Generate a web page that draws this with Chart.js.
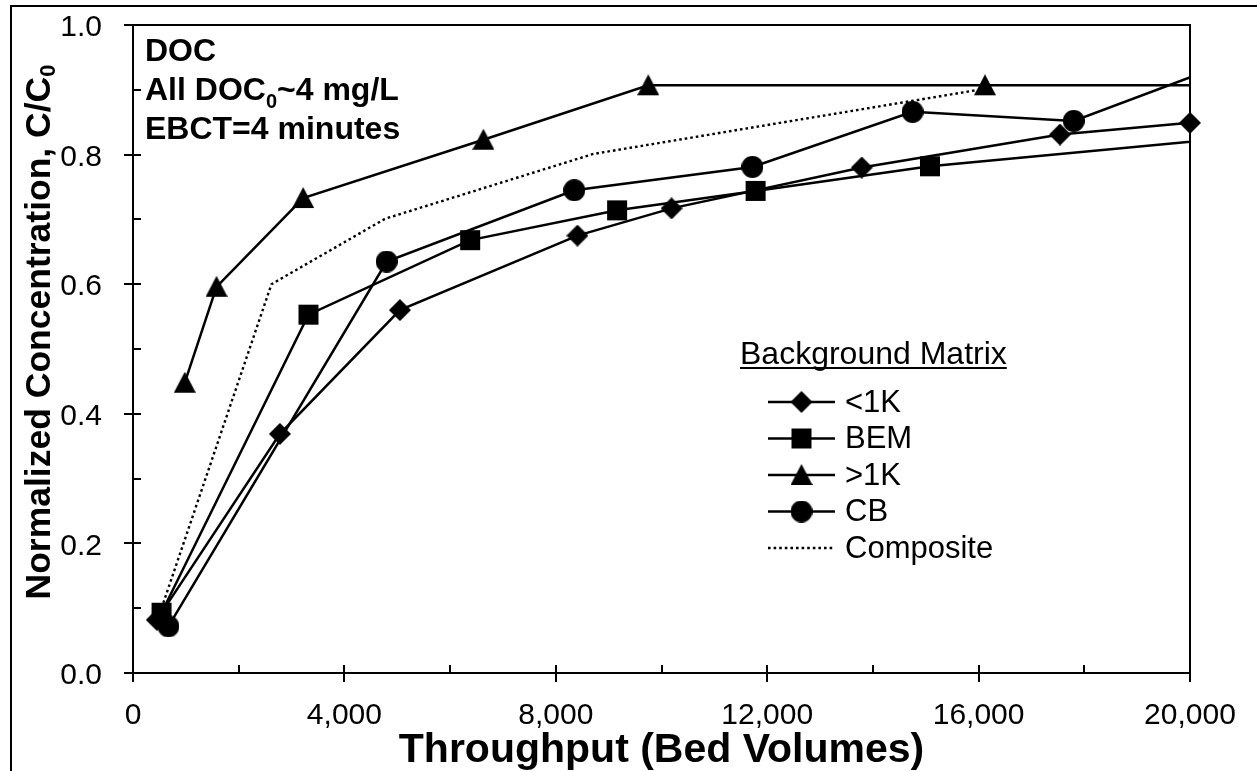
<!DOCTYPE html>
<html>
<head>
<meta charset="utf-8">
<title>DOC breakthrough by background matrix</title>
<script src="https://cdn.jsdelivr.net/npm/chart.js@4/dist/chart.umd.min.js"></script>
<style>
    html, body { margin: 0; padding: 0; background: #fff; }
    #wrap { width: 1257px; height: 771px; }
</style>
</head>
<body>
<div id="wrap"><canvas id="chart" width="1257" height="771"></canvas></div>
<script>
// Throughput (bed volumes) and normalized concentration C/C0 per background matrix
const lt1kX = [450, 2780, 5050, 8410, 10190, 13790, 17540, 20000];
const lt1kY = [0.082, 0.369, 0.560, 0.675, 0.717, 0.780, 0.831, 0.849];
const bemX = [540, 3320, 6380, 9160, 11780, 15080, 22000];
const bemY = [0.093, 0.553, 0.668, 0.714, 0.744, 0.782, 0.835];
const gt1kX = [980, 1580, 3220, 6630, 9750, 16120, 22000];
const gt1kY = [0.448, 0.596, 0.733, 0.823, 0.907, 0.907, 0.907];
const cbX = [670, 4800, 8350, 11720, 14750, 17800, 22000];
const cbY = [0.072, 0.635, 0.745, 0.781, 0.866, 0.852, 0.980];
const compositeX = [540, 2620, 4770, 8710, 15930];
const compositeY = [0.100, 0.600, 0.701, 0.801, 0.899];

const seriesNames = ['<1K', 'BEM', '>1K', 'CB', 'Composite'];
const xTicks = [0, 4000, 8000, 12000, 16000, 20000];
const yTicks = [0, 0.2, 0.4, 0.6, 0.8, 1.0];

const legendTitle = 'Background Matrix';
const xTitle = 'Throughput (Bed Volumes)';
// [text, subscript, rest]
const yTitle = ['Normalized Concentration, C/C', '0', ''];
const notes = [
    ['DOC', '', ''],
    ['All DOC', '0', '~4 mg/L'],
    ['EBCT=4 minutes', '', '']
];

const FONT = '"Liberation Sans", Arial, Helvetica, sans-serif';

// Build a solid black marker image
function makeMarker(shape, size) {
    const c = document.createElement('canvas');
    c.width = size;
    c.height = size;
    const g = c.getContext('2d');
    const h = size / 2;
    g.fillStyle = '#000';
    g.beginPath();
    if (shape === 'diamond') {
        g.moveTo(h, 0); g.lineTo(size, h); g.lineTo(h, size); g.lineTo(0, h);
    } else if (shape === 'square') {
        g.rect(1, 1, size - 2, size - 2);
    } else if (shape === 'triangle') {
        g.moveTo(h, 0); g.lineTo(size, size - 1); g.lineTo(0, size - 1);
    } else {
        g.arc(h, h, h, 0, Math.PI * 2);
    }
    g.closePath();
    g.fill();
    return c;
}

const markers = {
    diamond: makeMarker('diamond', 22),
    square: makeMarker('square', 22),
    triangle: makeMarker('triangle', 22),
    circle: makeMarker('circle', 22)
};

function points(xs, ys) {
    return xs.map((x, i) => ({ x: x, y: ys[i] }));
}

function lineSet(label, xs, ys, marker, clip) {
    return {
        label: label,
        data: points(xs, ys),
        showLine: true,
        borderColor: '#000',
        backgroundColor: '#000',
        borderWidth: 2.5,
        pointStyle: marker || false,
        pointRadius: marker ? 11 : 0,
        pointHoverRadius: marker ? 11 : 0,
        tension: 0,
        clip: clip
    };
}

const datasets = [
    lineSet(seriesNames[0], lt1kX, lt1kY, markers.diamond, false),
    lineSet(seriesNames[1], bemX, bemY, markers.square, 0),
    lineSet(seriesNames[2], gt1kX, gt1kY, markers.triangle, 0),
    lineSet(seriesNames[3], cbX, cbY, markers.circle, 0),
    Object.assign(lineSet(seriesNames[4], compositeX, compositeY, null, false), {
        borderWidth: 2.4,
        borderDash: [2.6, 3],
        borderCapStyle: 'butt'
    })
];

// Draw text with an optional subscript part
function drawSubText(ctx, parts, x, y, size) {
    const big = 'bold ' + size + 'px ' + FONT;
    const small = 'bold ' + Math.round(size * 0.62) + 'px ' + FONT;
    ctx.font = big;
    ctx.fillText(parts[0], x, y);
    x += ctx.measureText(parts[0]).width;
    if (parts[1]) {
        ctx.font = small;
        ctx.fillText(parts[1], x, y + size * 0.24);
        x += ctx.measureText(parts[1]).width;
    }
    if (parts[2]) {
        ctx.font = big;
        ctx.fillText(parts[2], x, y);
    }
}

function subTextWidth(ctx, parts, size) {
    ctx.font = 'bold ' + size + 'px ' + FONT;
    let w = ctx.measureText(parts[0]).width + ctx.measureText(parts[2]).width;
    ctx.font = 'bold ' + Math.round(size * 0.62) + 'px ' + FONT;
    return w + ctx.measureText(parts[1]).width;
}

const framePlugin = {
    id: 'frame',

    beforeDraw(chart) {
        const ctx = chart.ctx;
        ctx.save();
        ctx.fillStyle = '#fff';
        ctx.fillRect(0, 0, chart.width, chart.height);
        // Outer chart border (cut off at right and bottom)
        ctx.strokeStyle = '#000';
        ctx.lineWidth = 2;
        ctx.strokeRect(11, 6, 2000, 2000);
        ctx.restore();
    },

    beforeDatasetsDraw(chart) {
        const ctx = chart.ctx;
        const { left, right, top, bottom } = chart.chartArea;
        const xs = chart.scales.x;
        const ys = chart.scales.y;
        ctx.save();
        ctx.strokeStyle = '#000';
        ctx.lineWidth = 2;
        ctx.strokeRect(left, top, right - left, bottom - top);

        // Tick marks: major cross the axis, minor inside only
        ctx.beginPath();
        for (let v = 0; v <= 20000; v += 2000) {
            const px = Math.round(xs.getPixelForValue(v));
            const major = xTicks.includes(v);
            ctx.moveTo(px, bottom - 8);
            ctx.lineTo(px, bottom + (major ? 9 : 0));
        }
        for (let i = 0; i <= 10; i++) {
            const py = Math.round(ys.getPixelForValue(i / 10));
            const major = i % 2 === 0;
            ctx.moveTo(left - (major ? 9 : 0), py);
            ctx.lineTo(left + 8, py);
        }
        ctx.stroke();
        ctx.restore();
    },

    afterDraw(chart) {
        const ctx = chart.ctx;
        const { top, bottom } = chart.chartArea;
        ctx.save();
        ctx.fillStyle = '#000';
        ctx.strokeStyle = '#000';

        // Notes in the top left corner
        ctx.textAlign = 'left';
        ctx.textBaseline = 'alphabetic';
        notes.forEach((parts, i) => {
            drawSubText(ctx, parts, 145, 61 + i * 39, 32);
        });

        // Y axis title with subscript
        ctx.save();
        ctx.translate(40, (top + bottom) / 2 - 17);
        ctx.rotate(-Math.PI / 2);
        ctx.textBaseline = 'middle';
        const tw = subTextWidth(ctx, yTitle, 35.5);
        drawSubText(ctx, yTitle, -tw / 2, 0, 35.5);
        ctx.restore();

        // Legend
        const lx = 768, lw = 67, tx = 845;
        ctx.font = '32px ' + FONT;
        ctx.textBaseline = 'alphabetic';
        ctx.fillText(legendTitle, 740, 364);
        ctx.fillRect(740, 367, ctx.measureText(legendTitle).width, 2);

        ctx.font = '31px ' + FONT;
        ctx.textBaseline = 'middle';
        chart.data.datasets.forEach((ds, i) => {
            const cy = 402 + i * 36.5;
            ctx.save();
            ctx.lineWidth = ds.borderWidth;
            ctx.setLineDash(ds.borderDash || []);
            ctx.beginPath();
            ctx.moveTo(lx, cy);
            ctx.lineTo(lx + lw, cy);
            ctx.stroke();
            ctx.restore();
            if (ds.pointStyle) {
                const m = ds.pointStyle;
                ctx.drawImage(m, lx + lw / 2 - m.width / 2, cy - m.height / 2);
            }
            ctx.fillText(ds.label, tx, cy + 1);
        });
        ctx.restore();
    }
};

new Chart(document.getElementById('chart'), {
    type: 'scatter',
    data: { datasets: datasets },
    options: {
        responsive: false,
        animation: false,
        events: [],
        layout: { padding: { left: 0, top: 25, right: 67, bottom: 0 } },
        plugins: {
            legend: { display: false },
            tooltip: { enabled: false }
        },
        scales: {
            x: {
                type: 'linear',
                min: 0,
                max: 20000,
                afterBuildTicks: s => { s.ticks = xTicks.map(v => ({ value: v })); },
                afterFit: s => {
                    s.height = 98;
                    s.paddingLeft = 0;
                    s.paddingRight = 0;
                },
                grid: { display: false, drawTicks: false },
                border: { display: false },
                ticks: {
                    padding: 25,
                    color: '#000',
                    autoSkip: false,
                    maxRotation: 0,
                    font: { family: FONT, size: 30 },
                    callback: v => v.toLocaleString('en-US')
                },
                title: {
                    display: true,
                    text: xTitle,
                    color: '#000',
                    font: { family: FONT, size: 41, weight: 'bold' },
                    padding: { top: 0, bottom: -4 }
                }
            },
            y: {
                type: 'linear',
                min: 0,
                max: 1,
                afterBuildTicks: s => { s.ticks = yTicks.map(v => ({ value: v })); },
                afterFit: s => {
                    s.width = 133;
                    s.paddingTop = 0;
                    s.paddingBottom = 0;
                },
                grid: { display: false, drawTicks: false },
                border: { display: false },
                ticks: {
                    padding: 31,
                    labelOffset: 3,
                    color: '#000',
                    font: { family: FONT, size: 30 },
                    callback: v => v.toFixed(1)
                }
            }
        }
    },
    plugins: [framePlugin]
});
</script>
</body>
</html>
